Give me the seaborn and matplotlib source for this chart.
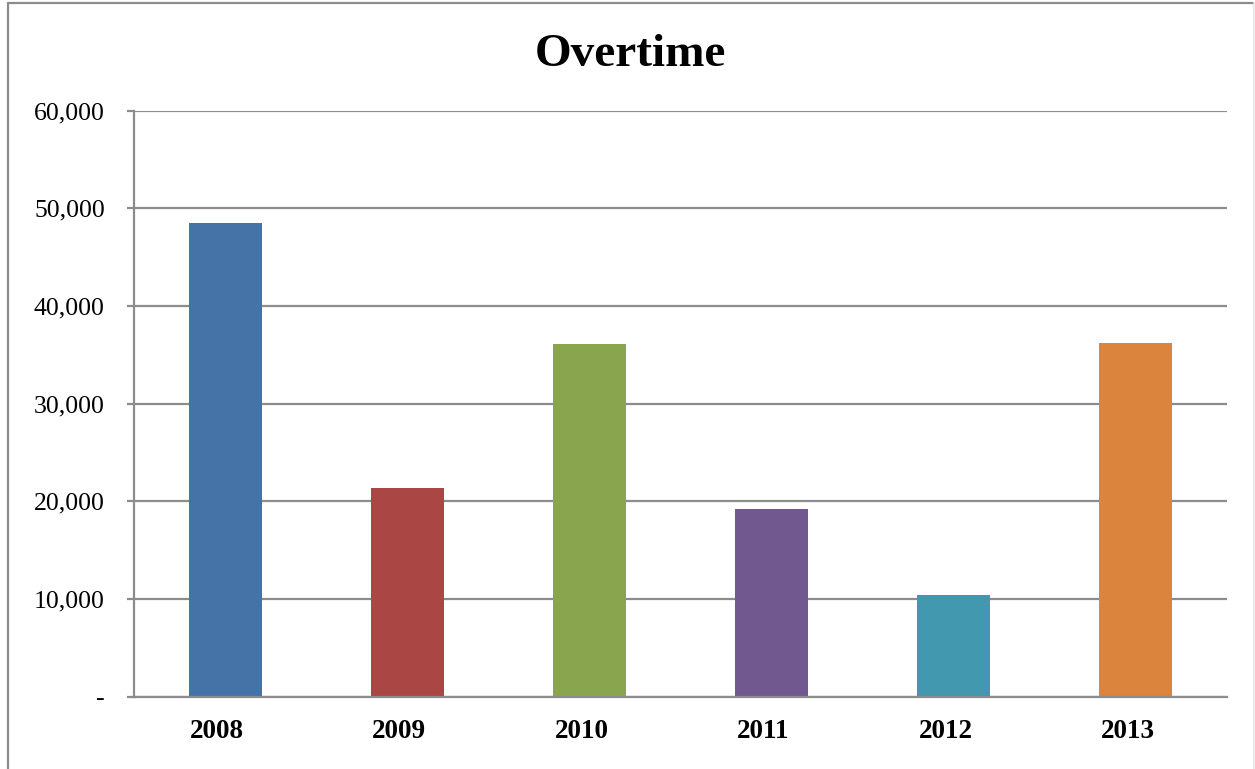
import matplotlib
matplotlib.use("Agg")
import matplotlib.pyplot as plt
import matplotlib.transforms as mtransforms
import seaborn as sns
import pandas as pd
from matplotlib.lines import Line2D

years = ["2008", "2009", "2010", "2011", "2012", "2013"]
overtime = [48500, 21400, 36100, 19200, 10400, 36200]
colors = ["#4572A7", "#AA4643", "#89A54E", "#71588F", "#4198AF", "#DB843D"]
yticks = [0, 10000, 20000, 30000, 40000, 50000, 60000]
ytick_labels = ["-", "10,000", "20,000", "30,000", "40,000", "50,000", "60,000"]
title = "Overtime"

sns.set_theme(style="white")
plt.rcParams["font.family"] = ["Liberation Serif", "DejaVu Serif"]

df = pd.DataFrame({"year": years, "value": overtime})

fig = plt.figure(figsize=(12.55, 7.69), dpi=100)
ax = fig.add_axes([134 / 1255, 1 - 696.5 / 769, (1227 - 134) / 1255, (696.5 - 110.7) / 769])

sns.barplot(data=df, x="year", y="value", hue="year", palette=colors,
            width=0.4, legend=False, ax=ax, saturation=1, linewidth=0)

grid_c = "#8C8C8C"
ax.set_ylim(0, 60000)
ax.set_xlim(-0.5, len(years) - 0.5)
ax.set_yticks(yticks)
ax.set_yticklabels(ytick_labels)
ax.yaxis.grid(True, color=grid_c, linewidth=1.6)
ax.set_axisbelow(True)
ax.set_xlabel("")
ax.set_ylabel("")

for s in ["top", "right"]:
    ax.spines[s].set_visible(False)
for s in ["left", "bottom"]:
    ax.spines[s].set_visible(True)
    ax.spines[s].set_color(grid_c)
    ax.spines[s].set_linewidth(1.6)

ax.tick_params(axis="y", which="major", left=True, length=5, width=1.6,
               color=grid_c, pad=16, labelsize=18.5, labelcolor="black")
ax.tick_params(axis="x", which="major", bottom=False, pad=10, labelsize=19.5,
               labelcolor="black")
offset = mtransforms.ScaledTranslation(-8 / 100, 0, fig.dpi_scale_trans)
for lbl in ax.get_xticklabels():
    lbl.set_fontweight("bold")
    lbl.set_transform(lbl.get_transform() + offset)

fig.text(630 / 1255, 1 - 66 / 769, title, ha="center", va="baseline",
         fontsize=34, fontweight="bold", color="black")

# outer chart border (left, top, faint right)
fig.add_artist(Line2D([8 / 1255, 8 / 1255], [0, 1 - 2.5 / 769],
                      transform=fig.transFigure, color=grid_c, linewidth=1.6))
fig.add_artist(Line2D([8 / 1255, 1253 / 1255], [1 - 2.5 / 769, 1 - 2.5 / 769],
                      transform=fig.transFigure, color=grid_c, linewidth=1.6))
fig.add_artist(Line2D([1254 / 1255, 1254 / 1255], [0, 1 - 2.5 / 769],
                      transform=fig.transFigure, color="#E6E6E6", linewidth=1.2))

fig.savefig("out.png", dpi=100)
